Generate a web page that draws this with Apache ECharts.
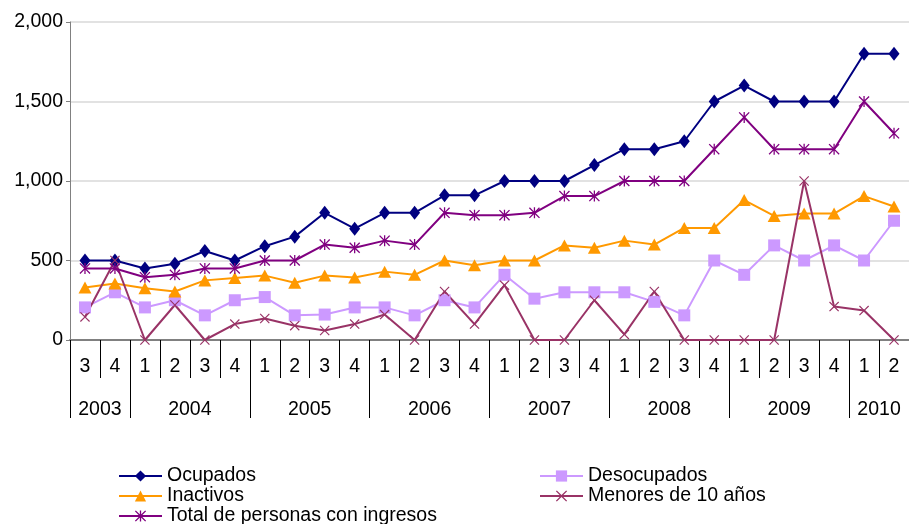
<!DOCTYPE html>
<html>
<head>
<meta charset="utf-8">
<script src="https://cdn.jsdelivr.net/npm/echarts@6/dist/echarts.min.js"></script>
<style>
  html, body { margin: 0; padding: 0; background: #fff; }
  #chart { width: 909px; height: 524px; }
</style>
</head>
<body>
<div id="chart"></div>
<script>
// quarters 2003 Q3 .. 2010 Q2
var quarters = ['3','4','1','2','3','4','1','2','3','4','1','2','3','4','1','2','3','4','1','2','3','4','1','2','3','4','1','2'];
var years = ['2003','2004','2005','2006','2007','2008','2009','2010'];
var quartersPerYear = [2, 4, 4, 4, 4, 4, 4, 2];

var ocupados = [500, 500, 450, 480, 560, 500, 590, 650, 800, 700, 800, 800, 910, 910, 1000, 1000, 1000, 1100, 1200, 1200, 1250, 1500, 1600, 1500, 1500, 1500, 1800, 1800];
var desocupados = [205, 300, 205, 250, 155, 250, 270, 155, 160, 205, 205, 155, 250, 205, 410, 260, 300, 300, 300, 240, 155, 500, 410, 595, 500, 595, 500, 750];
var inactivos = [330, 355, 325, 305, 375, 390, 405, 360, 405, 393, 430, 410, 500, 470, 500, 500, 595, 580, 625, 600, 705, 705, 880, 780, 795, 795, 905, 840];
var menores = [145, 500, 0, 220, 0, 100, 135, 90, 60, 100, 160, 0, 305, 100, 345, 0, 0, 250, 35, 305, 0, 0, 0, 0, 1000, 210, 185, 0];
var totalIngresos = [450, 450, 395, 410, 450, 450, 500, 500, 600, 580, 625, 600, 800, 785, 785, 800, 905, 905, 1000, 1000, 1000, 1200, 1400, 1200, 1200, 1200, 1500, 1300];

// year group boundaries and centres on a 0..28 scale
var yearBounds = [0];
var yearCenters = [];
quartersPerYear.forEach(function (n) {
  var start = yearBounds[yearBounds.length - 1];
  yearCenters.push(start + n / 2);
  yearBounds.push(start + n);
});

var xPath = 'path://M0,1 L1,0 L6,5 L11,0 L12,1 L7,6 L12,11 L11,12 L6,7 L1,12 L0,11 L5,6 Z';
var starPath = 'path://M0,1 L1,0 L6,5 L11,0 L12,1 L7,6 L12,11 L11,12 L6,7 L1,12 L0,11 L5,6 Z M5.3,0 L6.7,0 L6.7,12 L5.3,12 Z';

var font = 'Liberation Sans';
var chart = echarts.init(document.getElementById('chart'));

function line(name, data, color, symbol, size) {
  return {
    name: name,
    type: 'line',
    data: data,
    symbol: symbol,
    symbolSize: size,
    showAllSymbol: true,
    lineStyle: { color: color, width: 2 },
    itemStyle: { color: color, borderWidth: 0 },
    emphasis: { disabled: true }
  };
}

function legendItem(name, left, top) {
  return {
    data: [name],
    left: left, top: top,
    padding: 0,
    itemWidth: 43, itemHeight: 14,
    textStyle: { fontFamily: font, fontSize: 19.5, color: '#000', lineHeight: 20 }
  };
}

chart.setOption({
  animation: false,
  textStyle: { fontFamily: font },
  grid: { left: 70, right: -9, top: 22, bottom: 184 },
  legend: [
    legendItem('Ocupados', 118, 466),
    legendItem('Inactivos', 118, 486),
    legendItem('Total de personas con ingresos', 118, 506),
    legendItem('Desocupados', 539, 466),
    legendItem('Menores de 10 años', 539, 486)
  ],
  xAxis: [
    {
      type: 'category',
      data: quarters,
      position: 'bottom',
      boundaryGap: true,
      axisLine: { lineStyle: { color: '#808080', width: 2 } },
      axisTick: { show: true, length: 38, lineStyle: { color: '#000', width: 1 } },
      axisLabel: { fontFamily: font, fontSize: 19.5, color: '#000', margin: 17, interval: 0 },
      splitLine: { show: false }
    },
    {
      type: 'value',
      min: 0,
      max: yearBounds[yearBounds.length - 1],
      position: 'bottom',
      offset: 0,
      axisLine: { show: false },
      axisTick: { show: true, length: 78, customValues: yearBounds, lineStyle: { color: '#000', width: 1 } },
      axisLabel: {
        customValues: yearCenters,
        fontFamily: font, fontSize: 19.5, color: '#000', margin: 60,
        formatter: function (v) { return years[yearCenters.indexOf(v)] || ''; }
      },
      splitLine: { show: false }
    }
  ],
  yAxis: {
    type: 'value',
    min: 0, max: 2000, interval: 500,
    axisLine: { show: true, lineStyle: { color: '#808080', width: 1 } },
    axisTick: { show: true, length: 4, lineStyle: { color: '#808080' } },
    axisLabel: { fontFamily: font, fontSize: 19.5, color: '#000', margin: 7 },
    splitLine: { lineStyle: { color: '#d9d9d9', width: 1.5 } }
  },
  series: [
    line('Ocupados', ocupados, '#000080', 'diamond', [11, 14]),
    line('Desocupados', desocupados, '#CC99FF', 'rect', 12),
    line('Inactivos', inactivos, '#FF9900', 'triangle', [13, 12]),
    line('Menores de 10 años', menores, '#993366', xPath, 10),
    line('Total de personas con ingresos', totalIngresos, '#800080', starPath, 11)
  ]
});
</script>
</body>
</html>
